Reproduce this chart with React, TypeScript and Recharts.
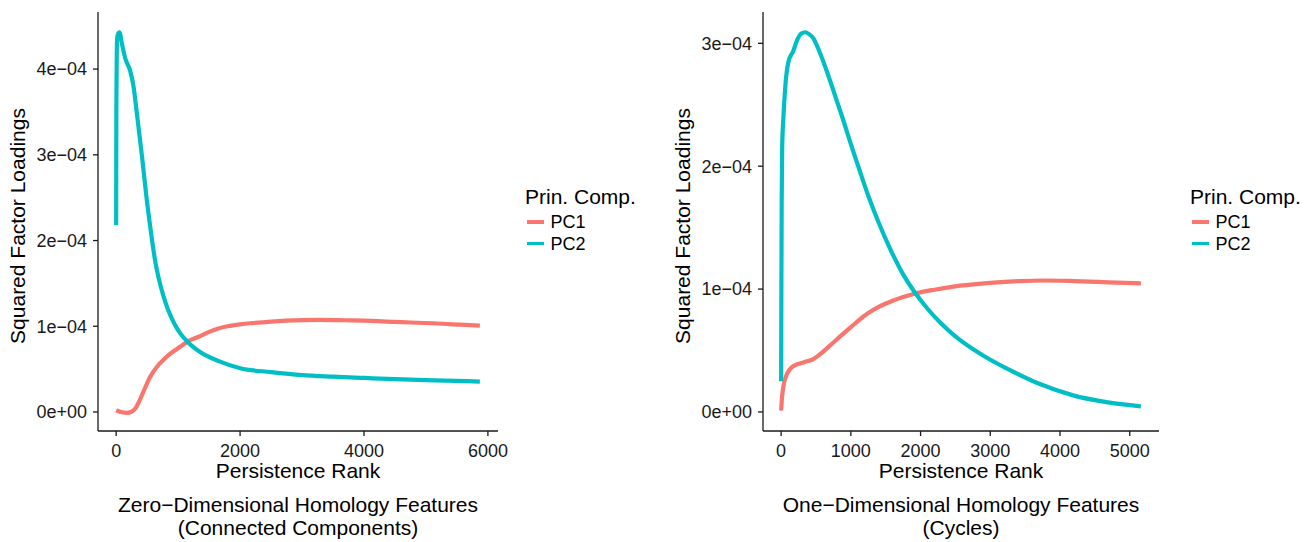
import { LineChart, Line, XAxis, YAxis } from "recharts";

const FONT = '"Liberation Sans", Arial, Helvetica, sans-serif';
const RED = "#F8766D";
const CYAN = "#00BFC4";
const INK = "#1a1a1a";

// Zero-dimensional homology features (left panel)
const h0Pc1Rank = [0, 50, 170, 250, 310, 370, 430, 490, 550, 610, 680, 760, 850, 950, 1032, 1150, 1355, 1500, 1650, 1800, 2000, 2200, 2500, 3000, 3300, 3700, 4000, 4500, 5100, 5500, 5870];
const h0Pc1Load = [0.02e-4, 0.005e-4, -0.01e-4, 0.005e-4, 0.04e-4, 0.12e-4, 0.22e-4, 0.32e-4, 0.41e-4, 0.48e-4, 0.545e-4, 0.605e-4, 0.665e-4, 0.72e-4, 0.76e-4, 0.82e-4, 0.885e-4, 0.935e-4, 0.975e-4, 1.0e-4, 1.022e-4, 1.037e-4, 1.055e-4, 1.072e-4, 1.075e-4, 1.07e-4, 1.065e-4, 1.05e-4, 1.035e-4, 1.02e-4, 1.007e-4];
const h0Pc2Rank = [0, 3, 8, 12, 25, 53, 92, 145, 226, 280, 333, 414, 495, 537, 580, 630, 690, 760, 844, 940, 1032, 1150, 1355, 1677, 2000, 2500, 3000, 3500, 4000, 4500, 5000, 5500, 5870];
const h0Pc2Load = [2.18e-4, 3.5e-4, 4.0e-4, 4.3e-4, 4.4e-4, 4.43e-4, 4.3e-4, 4.13e-4, 3.98e-4, 3.8e-4, 3.49e-4, 3.0e-4, 2.47e-4, 2.23e-4, 2.0e-4, 1.76e-4, 1.55e-4, 1.36e-4, 1.18e-4, 1.03e-4, 0.92e-4, 0.82e-4, 0.7e-4, 0.587e-4, 0.51e-4, 0.465e-4, 0.43e-4, 0.412e-4, 0.397e-4, 0.383e-4, 0.372e-4, 0.362e-4, 0.355e-4];

// One-dimensional homology features (right panel)
const h1Pc1Rank = [0, 10, 33, 70, 129, 200, 272, 360, 463, 560, 680, 798, 1000, 1100, 1250, 1400, 1600, 1750, 1900, 2200, 2470, 3000, 3424, 3758, 4200, 4700, 5160];
const h1Pc1Load = [0.01e-4, 0.1e-4, 0.21e-4, 0.29e-4, 0.35e-4, 0.38e-4, 0.395e-4, 0.41e-4, 0.43e-4, 0.47e-4, 0.53e-4, 0.59e-4, 0.69e-4, 0.74e-4, 0.805e-4, 0.855e-4, 0.905e-4, 0.935e-4, 0.96e-4, 0.995e-4, 1.02e-4, 1.05e-4, 1.065e-4, 1.07e-4, 1.065e-4, 1.055e-4, 1.046e-4];
const h1Pc2Rank = [0, 3, 8, 15, 33, 60, 105, 176, 225, 290, 344, 400, 463, 530, 606, 700, 800, 900, 1000, 1100, 1250, 1400, 1562, 1750, 1896, 2100, 2278, 2500, 2755, 3000, 3233, 3711, 4188, 4666, 5160];
const h1Pc2Load = [0.25e-4, 0.9e-4, 1.7e-4, 2.15e-4, 2.4e-4, 2.65e-4, 2.85e-4, 2.94e-4, 3.02e-4, 3.08e-4, 3.09e-4, 3.075e-4, 3.04e-4, 2.96e-4, 2.85e-4, 2.7e-4, 2.53e-4, 2.36e-4, 2.18e-4, 2.01e-4, 1.76e-4, 1.54e-4, 1.33e-4, 1.12e-4, 0.99e-4, 0.84e-4, 0.73e-4, 0.615e-4, 0.51e-4, 0.425e-4, 0.355e-4, 0.227e-4, 0.135e-4, 0.08e-4, 0.046e-4];

const h0RankTicks = [0, 2000, 4000, 6000];
const h0LoadTicks = [0, 1e-4, 2e-4, 3e-4, 4e-4];
const h1RankTicks = [0, 1000, 2000, 3000, 4000, 5000];
const h1LoadTicks = [0, 1e-4, 2e-4, 3e-4];

const toPoints = (ranks: number[], loads: number[]) =>
  ranks.map((rank, i) => ({ rank, load: loads[i] }));

const sci = (v: number) =>
  v === 0 ? "0e+00" : `${Math.round(v * 1e4)}e\u221204`;

interface PanelProps {
  left: number;
  width: number;
  plotLeft: number;
  plotRight: number;
  xDomain: [number, number];
  xTicks: number[];
  yDomain: [number, number];
  yTicks: number[];
  pc1: { rank: number; load: number }[];
  pc2: { rank: number; load: number }[];
  caption: string[];
}

function Panel(p: PanelProps) {
  const axis = { stroke: INK, strokeWidth: 1.3 };
  const tick = { fill: INK, fontSize: 18, fontFamily: FONT };
  const cx = (p.plotLeft + p.plotRight) / 2;
  return (
    <>
      <div style={{ position: "absolute", left: p.left, top: 0 }}>
        <LineChart
          width={p.width}
          height={542}
          margin={{ top: 12, right: p.left + p.width - p.plotRight, bottom: 81, left: 0 }}
        >
          <XAxis
            type="number"
            dataKey="rank"
            domain={p.xDomain}
            ticks={p.xTicks}
            interval={0}
            allowDataOverflow
            height={30}
            tickSize={5}
            tickMargin={8}
            axisLine={axis}
            tickLine={axis}
            tick={tick}
          />
          <YAxis
            type="number"
            domain={p.yDomain}
            ticks={p.yTicks}
            interval={0}
            allowDataOverflow
            width={98}
            tickSize={5}
            tickMargin={6}
            tickFormatter={sci}
            axisLine={axis}
            tickLine={axis}
            tick={tick}
          />
          <Line
            data={p.pc1}
            dataKey="load"
            type="monotone"
            stroke={RED}
            strokeWidth={4.2}
            dot={false}
            isAnimationActive={false}
          />
          <Line
            data={p.pc2}
            dataKey="load"
            type="monotone"
            stroke={CYAN}
            strokeWidth={4.2}
            dot={false}
            isAnimationActive={false}
          />
        </LineChart>
      </div>

      {/* axis titles */}
      <div
        style={{
          position: "absolute",
          left: p.plotLeft - 81,
          top: 226,
          transform: "translate(-50%, -50%) rotate(-90deg)",
          whiteSpace: "nowrap",
          fontSize: 21,
          lineHeight: 1,
        }}
      >
        Squared Factor Loadings
      </div>
      <div
        style={{
          position: "absolute",
          left: cx,
          top: 460,
          transform: "translateX(-50%)",
          whiteSpace: "nowrap",
          fontSize: 21,
          lineHeight: 1,
        }}
      >
        Persistence Rank
      </div>
      <div
        style={{
          position: "absolute",
          left: cx,
          top: 493,
          transform: "translateX(-50%)",
          whiteSpace: "nowrap",
          fontSize: 21,
          lineHeight: "23px",
          textAlign: "center",
        }}
      >
        {p.caption.map((c) => (
          <div key={c}>{c}</div>
        ))}
      </div>
    </>
  );
}

function Legend({ left }: { left: number }) {
  const items = [
    { name: "PC1", color: RED },
    { name: "PC2", color: CYAN },
  ];
  return (
    <div style={{ position: "absolute", left, top: 186 }}>
      <div style={{ fontSize: 21, lineHeight: 1, whiteSpace: "nowrap" }}>
        Prin. Comp.
      </div>
      {items.map((it, i) => (
        <div
          key={it.name}
          style={{
            position: "absolute",
            top: 27 + i * 21.5,
            left: 1.5,
            display: "flex",
            alignItems: "center",
            height: 18,
          }}
        >
          <div
            style={{ width: 17, height: 3.8, backgroundColor: it.color }}
          />
          <span style={{ marginLeft: 7, fontSize: 18, lineHeight: 1 }}>
            {it.name}
          </span>
        </div>
      ))}
    </div>
  );
}

export default function App() {
  return (
    <div
      style={{
        position: "absolute",
        left: 0,
        top: 0,
        width: 1308,
        height: 542,
        background: "#fff",
        fontFamily: FONT,
        color: "#000",
        overflow: "hidden",
      }}
    >
      <Panel
        left={0}
        width={530}
        plotLeft={98}
        plotRight={498}
        xDomain={[-293, 6163]}
        xTicks={h0RankTicks}
        yDomain={[-0.222e-4, 4.666e-4]}
        yTicks={h0LoadTicks}
        pc1={toPoints(h0Pc1Rank, h0Pc1Load)}
        pc2={toPoints(h0Pc2Rank, h0Pc2Load)}
        caption={["Zero\u2212Dimensional Homology Features", "(Connected Components)"]}
      />
      <Legend left={525} />
      <Panel
        left={665}
        width={520}
        plotLeft={763}
        plotRight={1159}
        xDomain={[-260, 5420]}
        xTicks={h1RankTicks}
        yDomain={[-0.155e-4, 3.255e-4]}
        yTicks={h1LoadTicks}
        pc1={toPoints(h1Pc1Rank, h1Pc1Load)}
        pc2={toPoints(h1Pc2Rank, h1Pc2Load)}
        caption={["One\u2212Dimensional Homology Features", "(Cycles)"]}
      />
      <Legend left={1190} />
    </div>
  );
}
